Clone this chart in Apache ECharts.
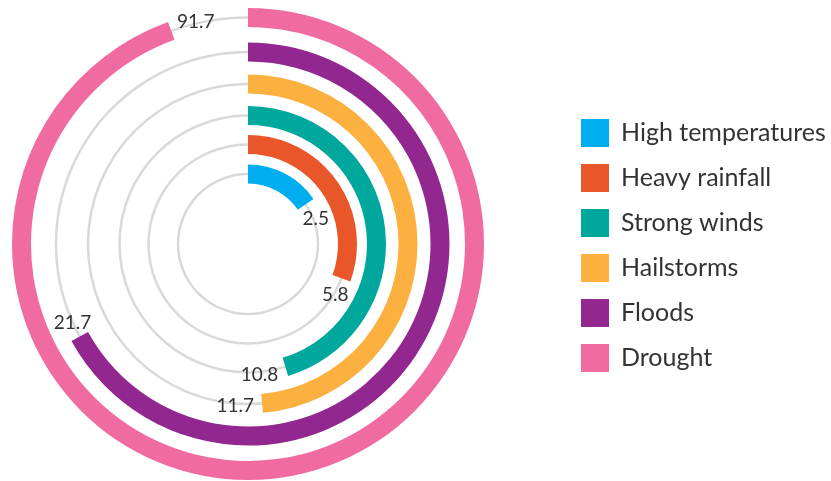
<!DOCTYPE html>
<html><head><meta charset="utf-8">
<script src="https://cdn.jsdelivr.net/npm/echarts@6/dist/echarts.min.js"></script>
<style>html,body{margin:0;padding:0;background:#fff}#c{width:831px;height:481px}</style>
</head><body><div id="c"></div>
<script>
const categories = ['High temperatures','Heavy rainfall','Strong winds','Hailstorms','Floods','Drought'];
const labelValues = [2.5, 5.8, 10.8, 11.7, 21.7, 91.7];
// share of the full circle covered by each bar (percent)
const arcShare = [15.4, 30.6, 45.3, 48.6, 67.0, 94.5];
const colors = ['#00aeef','#e8562a','#00a79d','#fbb040','#92278f','#f06b9f'];

const ringRadius = [70, 99.5, 128.5, 160, 192, 226.5];
const labelDistance = [18, 18, 27, 27, 15, 26];
const barThickness = 19;
const center = [248, 244];
const fontFamily = 'Lato';

const polar = ringRadius.map(r => ({center: center, radius: [r - barThickness/2, r + barThickness/2]}));
const angleAxis = ringRadius.map((r, i) => ({polarIndex: i, type: 'value', min: 0, max: 100, startAngle: 90, clockwise: true, show: false}));
const radiusAxis = categories.map((c, i) => ({polarIndex: i, type: 'category', data: [c], show: false}));

const series = [];
ringRadius.forEach((r, i) => series.push({
  type: 'pie', silent: true, center: center, radius: [r - 1.25, r + 1.25], z: 1,
  label: {show: false}, labelLine: {show: false}, animation: false,
  data: [{value: 1, name: '', itemStyle: {color: '#d9d9d9'}}]
}));
categories.forEach((c, i) => series.push({
  type: 'bar', name: c, coordinateSystem: 'polar', polarIndex: i,
  barWidth: barThickness, z: 3,
  itemStyle: {color: colors[i]},
  label: {show: true, position: 'end', rotate: 0, distance: labelDistance[i],
          align: 'center', verticalAlign: 'middle',
          formatter: () => String(labelValues[i]),
          fontSize: 19, color: '#333', fontFamily: fontFamily},
  data: [arcShare[i]]
}));

const chart = echarts.init(document.getElementById('c'));
chart.setOption({
  animation: false,
  color: colors,
  polar: polar,
  angleAxis: angleAxis,
  radiusAxis: radiusAxis,
  legend: {
    data: categories, orient: 'vertical', left: 581, top: 119,
    itemWidth: 28, itemHeight: 28, itemGap: 17, icon: 'rect', padding: 0,
    textStyle: {fontSize: 25, color: '#333', fontFamily: fontFamily, padding: [0, 0, 0, 7]}
  },
  series: series
});
</script></body></html>
